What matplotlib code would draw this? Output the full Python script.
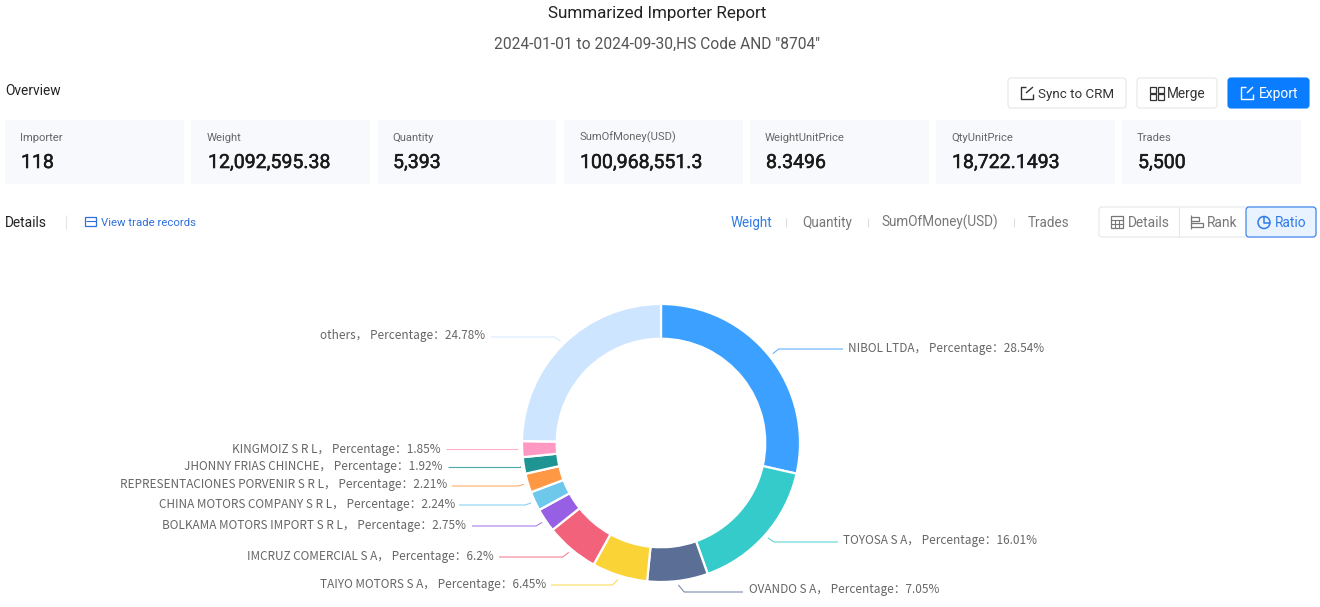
import numpy as np
import matplotlib
matplotlib.use("Agg")
import matplotlib.pyplot as plt
import matplotlib.patheffects as pe
from matplotlib.patches import FancyBboxPatch, Rectangle, Circle

# ---- data ----
importers = ["NIBOL LTDA", "TOYOSA S A", "OVANDO S A", "TAIYO MOTORS S A", "IMCRUZ COMERCIAL S A",
             "BOLKAMA MOTORS IMPORT S R L", "CHINA MOTORS COMPANY S R L",
             "REPRESENTACIONES PORVENIR S R L", "JHONNY FRIAS CHINCHE", "KINGMOIZ S R L", "others"]
percentages = [28.54, 16.01, 7.05, 6.45, 6.2, 2.75, 2.24, 2.21, 1.92, 1.85, 24.78]
card_labels = ["Importer", "Weight", "Quantity", "SumOfMoney(USD)", "WeightUnitPrice", "QtyUnitPrice", "Trades"]
card_values = ["118", "12,092,595.38", "5,393", "100,968,551.3", "8.3496", "18,722.1493", "5,500"]
tab_labels = ["Weight", "Quantity", "SumOfMoney(USD)", "Trades"]

# ---- style / layout ----
colors = ["#3BA0FF", "#36CBCB", "#5B6E96", "#FAD337", "#F2637B", "#975FE4", "#6DC8EC",
          "#FF9845", "#1E9493", "#FF99C3", "#CDE5FF"]
W, H = 1320, 607
CX, CY, R = 661, 443, 139
PX = 1 / (100 / 72)  # points per pixel
label_end_x = [843, 838, 743, 551, 499, 472, 459, 452, 448, 446, 491]
leader_y = [349, 542, 592, 585, 557, 526, 505, 486, 467, 449, 337]
label_x = [848, 843, 749, 546, 494, 466, 455, 447, 443, 441, 485]
label_y = [348, 540, 589, 584, 556, 525, 504, 484, 466, 449, 335]
card_x = [5, 191, 378, 564, 750, 936, 1122]
card_w = [179, 179, 178, 179, 179, 179, 179]
card_text_x = [20, 207, 392, 579, 765, 951, 1137]

fig = plt.figure(figsize=(13.2, 6.07), dpi=100, facecolor="white")
bg = fig.add_axes([0, 0, 1, 1])
bg.set_xlim(0, W)
bg.set_ylim(H, 0)
bg.axis("off")

ROB = ["Roboto", "DejaVu Sans"]
CJK = ["Noto Sans CJK SC", "DejaVu Sans"]


def txt(x, y, s, px, color="#333333", ha="left", family=ROB, stroke=0):
    t = bg.text(x, y + 0.36 * px, s, fontsize=px * PX, color=color, ha=ha, va="baseline", family=family)
    if stroke:
        t.set_path_effects([pe.withStroke(linewidth=stroke, foreground=color)])


def rbox(x0, y0, x1, y1, fc="white", ec="#E4E6EA", r=3, lw=0.8, z=1):
    bg.add_patch(FancyBboxPatch((x0 + r, y0 + r), x1 - x0 - 2 * r, y1 - y0 - 2 * r,
                                boxstyle=f"round,pad={r}", fc=fc, ec=ec, lw=lw, zorder=z))


def seg(xs, ys, color, lw=0.8, z=3, alpha=1.0):
    bg.plot(xs, ys, color=color, lw=lw, solid_capstyle="butt", zorder=z, alpha=alpha)


# header
txt(657, 12, "Summarized Importer Report", 17, "#222222", "center")
txt(657, 43, '2024-01-01 to 2024-09-30,HS Code AND "8704"', 15.5, "#555555", "center")
txt(5, 90, "Overview", 13.7, "#222222")

# top buttons
rbox(1008, 78, 1126, 108)
rbox(1137, 78, 1217, 108)
rbox(1228, 78, 1309, 108, fc="#0A7CFF", ec="#0A7CFF")
txt(1038, 93, "Sync to CRM", 13.4, "#333333")
txt(1167, 93, "Merge", 13.6, "#333333")
txt(1259, 93, "Export", 13.8, "white")
seg([1026, 1021, 1021, 1033, 1033], [87, 87, 99, 99, 94], "#333333", 1.0)
seg([1026, 1033], [93, 87], "#333333", 1.0)
for x0, y0 in [(1150, 87), (1158, 87), (1150, 94), (1158, 94)]:
    bg.add_patch(Rectangle((x0, y0), 6, 5.5, fc="none", ec="#333333", lw=0.9, zorder=3))
seg([1246, 1241, 1241, 1253, 1253], [87, 87, 99, 99, 94], "white", 1.0)
seg([1247, 1253], [93, 87], "white", 1.0)

# cards
for x, w, tx, lab, val in zip(card_x, card_w, card_text_x, card_labels, card_values):
    bg.add_patch(Rectangle((x, 120), w, 64, fc="#F8F9FC", ec="none", zorder=1))
    txt(tx, 136.5, lab, 11.3, "#666666")
    txt(tx + 1, 161, val, 19.5, "#1A1A1A", stroke=0.35)

# details row
txt(5, 222, "Details", 13.7, "#222222")
seg([66, 66], [215, 229], "#E4E6EA")
bg.add_patch(FancyBboxPatch((86, 218), 10, 8, boxstyle="round,pad=0.5", fc="none", ec="#2F6FDE", lw=0.9, zorder=3))
seg([86, 96], [221, 221], "#2F6FDE")
txt(101, 221.5, "View trade records", 11.4, "#2F6FDE")

for lab, x, col in zip(tab_labels, [751, 827, 940, 1049], ["#2F7BE8", "#777777", "#777777", "#777777"]):
    txt(x, 222, lab, 13.5, col, "center")
for x in [786, 868, 1014]:
    seg([x, x], [218, 227], "#DDDDDD")

# segmented control
rbox(1099, 207, 1316, 237)
seg([1179, 1179], [207, 237], "#E4E6EA")
rbox(1246, 207, 1316, 237, fc="#E8F3FF", ec="#2F7BE8", z=2)
txt(1128, 222, "Details", 13.7, "#777777")
txt(1207, 222, "Rank", 13.7, "#777777")
txt(1275, 222, "Ratio", 13.7, "#2F7BE8")
bg.add_patch(Rectangle((1111, 216), 12, 12, fc="none", ec="#777777", lw=0.9, zorder=3))
seg([1111, 1123], [220, 220], "#777777")
seg([1111, 1123], [224, 224], "#777777")
seg([1115, 1115], [220, 228], "#777777")
seg([1119, 1119], [220, 228], "#777777")
seg([1191, 1191], [215, 229], "#777777")
bg.add_patch(Rectangle((1191, 217), 8, 4, fc="none", ec="#777777", lw=0.9, zorder=3))
bg.add_patch(Rectangle((1191, 223), 12, 4, fc="none", ec="#777777", lw=0.9, zorder=3))
bg.add_patch(Circle((1264, 222.5), 6, fc="none", ec="#2F7BE8", lw=1.1, zorder=4))
seg([1264, 1264, 1270], [216.5, 222.5, 222.5], "#2F7BE8", 1.1, 4)

# donut
half = 1.1 * R
pie_ax = fig.add_axes([(CX - half) / W, 1 - (CY + half) / H, 2 * half / W, 2 * half / H])
pie_ax.pie(percentages, colors=colors, startangle=90, counterclock=False, radius=1,
           wedgeprops=dict(width=0.25, edgecolor="white", linewidth=1.6))
pie_ax.set_xlim(-1.1, 1.1)
pie_ax.set_ylim(-1.1, 1.1)
pie_ax.set_aspect("equal")
pie_ax.axis("off")

# leader lines + labels
cum = np.cumsum(percentages)
mids = (cum - np.array(percentages) / 2) / sum(percentages) * 2 * np.pi
for i, name in enumerate(importers):
    sx, sy = CX + (R + 4) * np.sin(mids[i]), CY - (R + 4) * np.cos(mids[i])
    right = label_end_x[i] > CX and i != 3
    ex = sx + (6 if right else -6)
    if abs(leader_y[i] - sy) < 1:
        ex = sx
    seg([sx, ex, label_end_x[i]], [sy, leader_y[i], leader_y[i]], colors[i], 0.8, alpha=0.8)
    s = f"{name}， Percentage：{percentages[i]:g}%"
    txt(label_x[i], label_y[i], s, 11.8, "#666666", "left" if right else "right", family=CJK)

fig.savefig("out.png", dpi=100)
